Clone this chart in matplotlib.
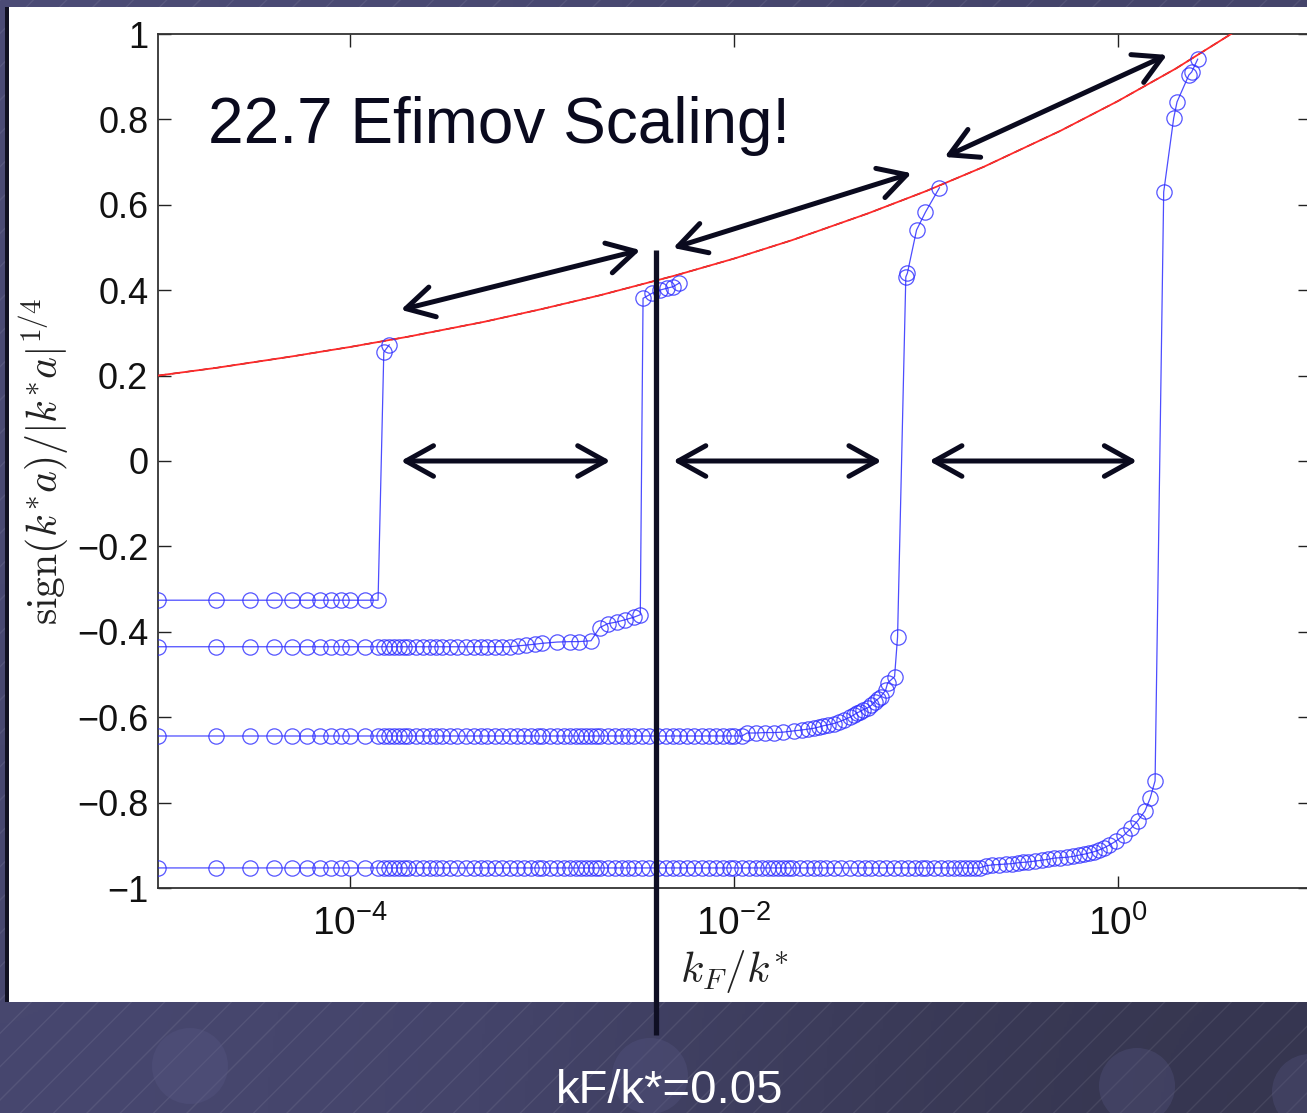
import numpy as np
import matplotlib
matplotlib.use('Agg')
import matplotlib.pyplot as plt
from matplotlib.patches import Rectangle, Circle
from matplotlib.colors import LinearSegmentedColormap
from matplotlib.ticker import FixedLocator, FixedFormatter, NullLocator

plt.rcParams['font.family'] = ['Liberation Sans', 'DejaVu Sans']
plt.rcParams['mathtext.fontset'] = 'cm'

# common kF/k* sampling on the flat parts of the branches
x_flat = [1e-5, 2e-5, 3e-5, 4e-5, 5e-5, 6e-5, 7e-5, 8e-5, 9e-5,
          1.0e-4, 1.2e-4, 1.4e-4, 1.5e-4, 1.6e-4, 1.7e-4, 1.8e-4, 1.9e-4, 2.0e-4, 2.2e-4, 2.4e-4,
          2.6e-4, 2.8e-4, 3.0e-4, 3.3e-4, 3.6e-4, 4.0e-4, 4.4e-4, 4.8e-4, 5.2e-4, 5.7e-4,
          6.2e-4, 6.8e-4, 7.4e-4, 8.1e-4, 8.8e-4, 9.5e-4,
          1.0e-3, 1.1e-3, 1.2e-3, 1.3e-3, 1.4e-3, 1.5e-3, 1.6e-3, 1.7e-3, 1.8e-3, 1.9e-3,
          2.0e-3, 2.2e-3, 2.4e-3, 2.6e-3, 2.8e-3, 3.0e-3, 3.3e-3, 3.6e-3, 4.0e-3, 4.4e-3,
          4.8e-3, 5.2e-3, 5.7e-3, 6.2e-3, 6.8e-3, 7.4e-3, 8.1e-3, 8.8e-3, 9.5e-3,
          1.0e-2, 1.1e-2, 1.2e-2, 1.3e-2, 1.4e-2, 1.5e-2, 1.6e-2, 1.7e-2, 1.8e-2, 1.9e-2,
          2.0e-2, 2.2e-2, 2.4e-2, 2.6e-2, 2.8e-2, 3.0e-2, 3.3e-2, 3.6e-2, 4.0e-2, 4.4e-2,
          4.8e-2, 5.2e-2, 5.7e-2, 6.2e-2, 6.8e-2, 7.4e-2, 8.1e-2, 8.8e-2, 9.5e-2,
          1.0e-1, 1.1e-1, 1.2e-1, 1.3e-1, 1.4e-1, 1.5e-1, 1.6e-1, 1.7e-1, 1.8e-1, 1.9e-1]

# flat levels of the four branches and where each stops being flat
level1, level2, level3, level4 = -0.326, -0.435, -0.644, -0.953
end1, end2, end3, end4 = 1.4e-4, 6.8e-4, 1.1e-2, 1.9e-1

# rising parts and jumps
rise1_x = [1.5e-4, 1.6e-4]
rise1_y = [0.255, 0.272]

rise2_x = [7.5e-4, 8.3e-4, 9.2e-4, 1.0e-3, 1.2e-3, 1.4e-3, 1.55e-3, 1.8e-3, 2.0e-3, 2.2e-3,
           2.45e-3, 2.7e-3, 3.0e-3, 3.25e-3, 3.36e-3, 3.75e-3, 4.1e-3, 4.5e-3, 4.8e-3, 5.2e-3]
rise2_y = [-0.433, -0.431, -0.429, -0.427, -0.424, -0.423, -0.423, -0.421, -0.390, -0.381,
           -0.377, -0.372, -0.366, -0.360, 0.381, 0.393, 0.400, 0.405, 0.408, 0.417]

rise3_x = [0.0117, 0.0130, 0.0145, 0.0162, 0.0180, 0.0205, 0.0225, 0.0242, 0.0260, 0.0277,
           0.0292, 0.0308, 0.0330, 0.0351, 0.0375, 0.0401, 0.0420, 0.0436, 0.0452, 0.0468,
           0.0497, 0.0520, 0.0540, 0.0560, 0.0580, 0.0616, 0.0631, 0.0686, 0.0711, 0.0785,
           0.0800, 0.0893, 0.0994, 0.1175]
rise3_y = [-0.637, -0.637, -0.636, -0.636, -0.635, -0.632, -0.630, -0.628, -0.626, -0.623,
           -0.620, -0.618, -0.615, -0.611, -0.606, -0.600, -0.595, -0.590, -0.587, -0.583,
           -0.578, -0.572, -0.564, -0.558, -0.552, -0.537, -0.520, -0.505, -0.412, 0.431,
           0.440, 0.541, 0.583, 0.640]

rise4_x = [0.205, 0.221, 0.240, 0.260, 0.280, 0.300, 0.320, 0.340, 0.370, 0.400, 0.430,
           0.465, 0.500, 0.543, 0.585, 0.627, 0.665, 0.707, 0.750, 0.796, 0.845, 0.897,
           0.977, 1.07, 1.17, 1.27, 1.38, 1.47, 1.56, 1.73, 1.95, 2.03, 2.34, 2.42, 2.60]
rise4_y = [-0.948, -0.946, -0.945, -0.944, -0.943, -0.941, -0.940, -0.939, -0.937, -0.935,
           -0.933, -0.930, -0.929, -0.928, -0.926, -0.923, -0.921, -0.918, -0.915, -0.911,
           -0.906, -0.900, -0.890, -0.877, -0.860, -0.842, -0.820, -0.790, -0.749, 0.630,
           0.803, 0.841, 0.904, 0.911, 0.941]

# red reference curve
red_x = [1e-5, 2e-5, 5e-5, 1e-4, 2e-4, 5e-4, 1e-3, 2e-3, 5e-3, 1e-2, 2e-2, 5e-2,
         1e-1, 2e-1, 5e-1, 1.0, 2.0, 5.0, 10.0]
red_y = [0.200, 0.218, 0.245, 0.267, 0.291, 0.326, 0.356, 0.388, 0.435, 0.474, 0.517, 0.580,
         0.632, 0.689, 0.773, 0.843, 0.919, 1.031, 1.124]

# double arrows (start, end) in data coordinates
arrows = [((1.84e-4, 0.0), (2.27e-3, 0.0)),
          ((4.82e-3, 0.0), (5.87e-2, 0.0)),
          ((0.104, 0.0), (1.256, 0.0)),
          ((1.84e-4, 0.354), (3.25e-3, 0.494)),
          ((4.82e-3, 0.499), (8.41e-2, 0.674)),
          ((0.125, 0.712), (1.80, 0.951))]
marker_x = 3.94e-3
marker_y = (0.494, -1.344)

yticks = [-1, -0.8, -0.6, -0.4, -0.2, 0, 0.2, 0.4, 0.6, 0.8, 1]
ytick_labels = ['\u22121', '\u22120.8', '\u22120.6', '\u22120.4', '\u22120.2', '0',
                '0.2', '0.4', '0.6', '0.8', '1']
xticks = [1e-4, 1e-2, 1e0]
xtick_labels = [r'$\mathregular{10^{-4}}$', r'$\mathregular{10^{-2}}$', r'$\mathregular{10^{0}}$']

W, H = 1307, 1113
fig = plt.figure(figsize=(W / 100, H / 100), dpi=100)
fig.patch.set_facecolor('#46466a')

# slide background: soft diagonal gradient, thin hatching, faint spheres
bg = fig.add_axes([0, 0, 1, 1], zorder=-10)
bg.set_xlim(0, W)
bg.set_ylim(H, 0)
bg.axis('off')
slide_cmap = LinearSegmentedColormap.from_list('slide', ['#4c4c76', '#44446a', '#35354e'])
bg.imshow([[0.0, 0.5], [0.3, 1.0]], cmap=slide_cmap, extent=(0, W, H, 0),
          interpolation='bicubic', aspect='auto', zorder=0)
bg.add_patch(Rectangle((0, 0), W, H, facecolor='none', edgecolor=(1, 1, 1, 0.08),
                       hatch='/', lw=0, zorder=1))
for cx, cy in [(190, 1066), (650, 1076), (1137, 1086), (1310, 1092)]:
    bg.add_patch(Circle((cx, cy), 38, facecolor='#5a5a88', alpha=0.3, lw=0, zorder=2))
bg.add_patch(Rectangle((5, 7), W, 995, facecolor='white', edgecolor='none', zorder=3))
bg.add_patch(Rectangle((5, 7), 4, 995, facecolor='#111122', edgecolor='none', zorder=4))

ax = fig.add_axes([158 / W, (H - 888) / H, (1310 - 158) / W, (888 - 34) / H])
ax.set_xscale('log')
ax.set_xlim(1e-5, 1e1)
ax.set_ylim(-1, 1)

ax.plot(red_x, red_y, color='k', ls='--', lw=1.0, dashes=(6, 4), zorder=2)
ax.plot(red_x, red_y, color='#ff2a2a', lw=1.3, zorder=3)

branches = [(level1, end1, rise1_x, rise1_y),
            (level2, end2, rise2_x, rise2_y),
            (level3, end3, rise3_x, rise3_y),
            (level4, end4, rise4_x, rise4_y)]
for level, end, rx, ry in branches:
    fx = [x for x in x_flat if x <= end]
    xs = fx + rx
    ys = [level] * len(fx) + ry
    ax.plot(xs, ys, color='#2020ff', lw=0.9, marker='o', ms=11, mfc='none',
            mec='#2a2aff', mew=0.9, alpha=0.8, zorder=4)

for (x0, y0), (x1, y1) in arrows:
    ax.annotate('', xy=(x1, y1), xytext=(x0, y0),
                arrowprops=dict(arrowstyle='<->,head_length=0.9,head_width=0.5',
                                color='#0a0a1e', lw=3.6, shrinkA=0, shrinkB=0,
                                mutation_scale=22), zorder=6)

ax.plot([marker_x, marker_x], list(marker_y), color='#0f0f23', lw=3.8,
        clip_on=False, zorder=7, solid_capstyle='butt')

ax.xaxis.set_major_locator(FixedLocator(xticks))
ax.xaxis.set_major_formatter(FixedFormatter(xtick_labels))
ax.xaxis.set_minor_locator(NullLocator())
ax.yaxis.set_major_locator(FixedLocator(yticks))
ax.yaxis.set_major_formatter(FixedFormatter(ytick_labels))
ax.tick_params(direction='in', length=9, width=1.0, colors='#222222',
               top=True, right=True)
ax.tick_params(axis='y', labelsize=26, pad=7, labelcolor='#111111')
ax.tick_params(axis='x', labelsize=28, pad=12, labelcolor='#111111')
for s in ax.spines.values():
    s.set_linewidth(1.3)
    s.set_color('#333333')

ax.set_ylabel(r'$\mathrm{sign}(k^{*}a)/|k^{*}a|^{1/4}$', fontsize=30, labelpad=4,
              color='#222222')
ax.set_xlabel(r'$k_F/k^{*}$', fontsize=31, labelpad=4, color='#222222')

fig.text(208 / W, (H - 143) / H, '22.7 Efimov Scaling!', fontsize=46,
         color='#0a0a1e', va='baseline', ha='left')
fig.text(670 / W, (H - 1103) / H, 'kF/k*=0.05', fontsize=34, color='white',
         va='baseline', ha='center')

fig.savefig('out.png', dpi=100, facecolor=fig.get_facecolor())
